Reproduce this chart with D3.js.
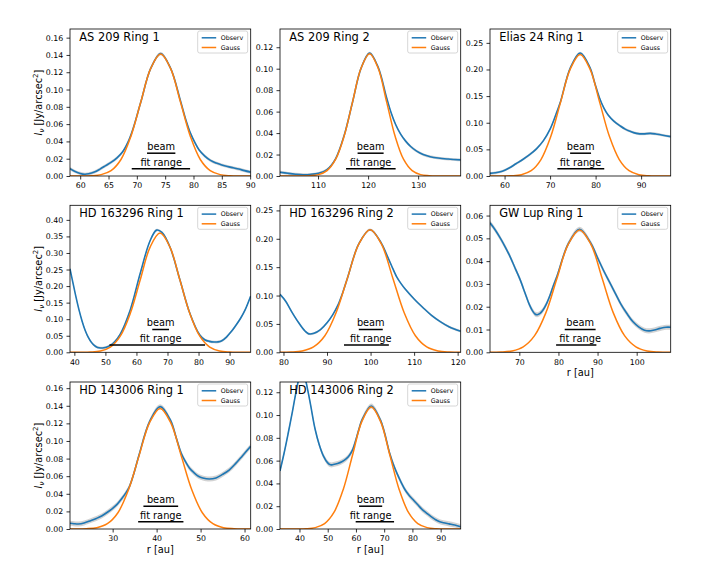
<!DOCTYPE html>
<html>
<head>
<meta charset="utf-8">
<script src="https://cdn.jsdelivr.net/npm/d3@7"></script>
<style>
  body { margin: 0; background: #fff; }
  svg { display: block; }
  text { font-family: "DejaVu Sans", sans-serif; }
</style>
</head>
<body>
<svg id="chart" width="706" height="588"></svg>
<script>
// panel metadata
const titles = ["AS 209 Ring 1", "AS 209 Ring 2", "Elias 24 Ring 1", "HD 163296 Ring 1",
  "HD 163296 Ring 2", "GW Lup Ring 1", "HD 143006 Ring 1", "HD 143006 Ring 2"];
const xDomains = [[58.2, 90.1], [102.4, 138.5], [56.8, 96.5], [38.6, 96.8],
  [79.2, 120.7], [62.5, 108.7], [20.3, 61.4], [33.1, 97.1]];
const yMax = [0.170, 0.137, 0.276, 0.444, 0.259, 0.0645, 0.167, 0.129];
const xTicks = [[60, 65, 70, 75, 80, 85, 90], [110, 120, 130], [60, 70, 80, 90],
  [40, 50, 60, 70, 80, 90], [80, 90, 100, 110, 120], [70, 80, 90, 100],
  [30, 40, 50, 60], [40, 50, 60, 70, 80, 90]];
const yTicks = [[0, 0.02, 0.04, 0.06, 0.08, 0.10, 0.12, 0.14, 0.16],
  [0, 0.02, 0.04, 0.06, 0.08, 0.10, 0.12],
  [0, 0.05, 0.10, 0.15, 0.20, 0.25],
  [0, 0.05, 0.10, 0.15, 0.20, 0.25, 0.30, 0.35, 0.40],
  [0, 0.05, 0.10, 0.15, 0.20, 0.25],
  [0, 0.01, 0.02, 0.03, 0.04, 0.05, 0.06],
  [0, 0.02, 0.04, 0.06, 0.08, 0.10, 0.12, 0.14, 0.16],
  [0, 0.02, 0.04, 0.06, 0.08, 0.10, 0.12]];
const beamRanges = [[71.8, 76.8], [117.9, 123.1], [74.4, 79.0], [65.1, 70.5],
  [97.3, 102.8], [81.6, 89.5], [37.0, 44.9], [61.1, 69.3]];
const fitRanges = [[69.1, 79.4], [115.6, 125.5], [71.6, 81.9], [51.3, 82.1],
  [93.9, 104.2], [79.4, 89.7], [35.8, 46.1], [59.9, 73.5]];
const bandErr = [0.0018, 0.0013, 0.0025, 0.004, 0.002, 0.0011, 0.0028, 0.0022];

// observed profiles [r, I]
const obsAS209R1 = [[58.2,0.0085],[59,0.0055],[60,0.003],[60.8,0.002],[61.5,0.0025],[62.5,0.0045],
  [63.5,0.008],[64.5,0.012],[65.5,0.016],[66.5,0.021],[67.5,0.028],[68.5,0.040],[69.3,0.054],
  [70.7,0.0855],[72.45,0.1244],[74.2,0.1415],[75.95,0.1248],[77.7,0.087],[78.7,0.064],[79.5,0.049],
  [80.3,0.038],[81,0.030],[82,0.023],[83,0.018],[84,0.015],[85,0.0128],[86,0.011],[87,0.0095],
  [88,0.008],[89,0.0062],[90.1,0.0045]];
const obsAS209R2 = [[102.4,0.0035],[104,0.0025],[105.5,0.0017],[107,0.0012],[108.4,0.0014],
  [110.1,0.0025],[111.8,0.006],[113.5,0.016],[115.2,0.0375],[116.9,0.069],[118.6,0.1005],
  [120.3,0.1145],[122.0,0.1015],[123.7,0.073],[124.6,0.059],[125.5,0.048],[126.5,0.039],
  [127.5,0.0325],[128.5,0.0275],[129.7,0.0232],[131,0.020],[132.4,0.018],[134,0.0167],
  [136,0.0158],[138.5,0.015]];
const obsElias24R1 = [[56.8,0.005],[58,0.006],[59.5,0.009],[61,0.015],[62.5,0.023],[64,0.031],
  [65.5,0.040],[67,0.051],[68.5,0.066],[70,0.088],[71.3,0.116],[72.3,0.140],[74.45,0.203],
  [76.6,0.231],[78.75,0.204],[79.8,0.175],[80.8,0.148],[81.8,0.128],[82.8,0.114],[84,0.103],
  [85.4,0.094],[86.5,0.088],[87.6,0.084],[89,0.080],[90.5,0.079],[92,0.080],[93.2,0.079],
  [94.5,0.077],[96.5,0.074]];
const obsHD163296R1 = [[38.6,0.252],[39.5,0.212],[40.5,0.168],[41.5,0.128],[42.5,0.094],[43.5,0.066],
  [44.5,0.045],[45.5,0.030],[46.5,0.020],[47.5,0.0145],[48.5,0.013],[49.5,0.0135],[50.5,0.016],
  [51.6,0.021],[53,0.032],[54.8,0.055],[58.0,0.128],[61.2,0.238],[64.4,0.337],[66.5,0.369],
  [68.2,0.362],[70.8,0.318],[74.0,0.219],[77.2,0.118],[80.4,0.052],[82,0.038],[83.5,0.033],
  [85,0.031],[86.3,0.0315],[87.5,0.035],[89,0.046],[90.5,0.062],[92,0.081],[93.5,0.102],
  [95,0.128],[96.8,0.170]];
const obsHD163296R2 = [[79.2,0.102],[80.5,0.090],[82,0.070],[83.5,0.052],[85,0.037],[85.8,0.0325],
  [87,0.0335],[88.5,0.040],[90,0.052],[91.3,0.066],[92.5,0.083],[93.6,0.105],[94.7,0.131],
  [97.3,0.191],[99.9,0.216],[102.5,0.192],[103.7,0.172],[104.8,0.153],[106,0.133],[107,0.121],
  [108,0.111],[110,0.094],[112,0.079],[114,0.065],[116,0.054],[118,0.045],[120.7,0.037]];
const obsGWLupR1 = [[62.5,0.0568],[63.8,0.0538],[65.1,0.0502],[66.4,0.0462],[67.6,0.0421],
  [68.9,0.037],[70.2,0.0319],[71.1,0.0277],[71.9,0.0239],[72.6,0.0208],[73.3,0.0184],[74.0,0.0168],
  [74.6,0.0165],[75.3,0.0171],[76.1,0.0187],[77.0,0.0215],[77.8,0.0248],[78.6,0.0288],
  [79.65,0.0335],[82.5,0.0476],[85.4,0.0540],[88.3,0.0478],[90,0.0415],[91.5,0.036],[93,0.031],
  [94.5,0.026],[96,0.021],[97.5,0.017],[99,0.0135],[100.5,0.0112],[102,0.0097],[103.2,0.0094],
  [104.5,0.0098],[106,0.0105],[107.5,0.011],[108.7,0.011]];
const obsHD143006R1 = [[20.3,0.0065],[21.2,0.006],[22.2,0.0057],[23.5,0.0068],[25,0.0095],
  [26.3,0.012],[27.5,0.0148],[28.8,0.019],[30,0.0235],[31,0.028],[32,0.034],[33,0.041],
  [33.8,0.048],[34.7,0.061],[36.0,0.084],[38.4,0.122],[40.8,0.139],[43.2,0.123],[44.5,0.103],
  [45.6,0.086],[46.5,0.077],[47.5,0.069],[48.5,0.064],[49.5,0.060],[50.5,0.058],[52,0.0568],
  [53.5,0.058],[55,0.062],[56.5,0.067],[58,0.0745],[59.5,0.083],[61.4,0.094]];
const obsHD143006R2 = [[33.1,0.051],[34.5,0.066],[36,0.084],[37.5,0.103],[38.6,0.118],[39.7,0.131],
  [40.8,0.139],[42,0.132],[43,0.121],[44,0.108],[45.5,0.088],[47,0.074],[48.5,0.064],[50,0.058],
  [51,0.0563],[52,0.0566],[53.5,0.0575],[55,0.059],[56.5,0.0615],[57.7,0.0648],[58.8,0.0695],
  [60,0.0785],[61.1,0.088],[62.1,0.0955],[65.4,0.108],[68.7,0.0955],[72.0,0.066],[73.2,0.057],
  [74.5,0.049],[76,0.041],[77.5,0.034],[79,0.029],[80.5,0.025],[82,0.021],[83.5,0.017],
  [85,0.014],[86.5,0.011],[88,0.0085],[89.5,0.0065],[91,0.0055],[93,0.0045],[95,0.0035],
  [97.1,0.002]];

// gaussian fits [r, I]
const gaussAS209R1 = [[58.2,0],[60.2,0],[61.95,0.0003],[63.7,0.0016],[65.45,0.0062],[67.2,0.0191],
  [68.95,0.0458],[70.7,0.0855],[72.45,0.1244],[74.2,0.141],[75.95,0.1244],[77.7,0.0855],
  [79.45,0.0458],[81.2,0.0191],[82.95,0.0062],[84.7,0.0016],[86.45,0.0003],[88.2,0],[90.1,0]];
const gaussAS209R2 = [[102.4,0],[106.7,0],[108.4,0.0003],[110.1,0.0013],[111.8,0.0050],
  [113.5,0.0154],[115.2,0.0370],[116.9,0.0691],[118.6,0.1006],[120.3,0.114],[122.0,0.1006],
  [123.7,0.0691],[125.4,0.0370],[127.1,0.0154],[128.8,0.0050],[130.5,0.0013],[132.2,0.0003],
  [133.9,0],[138.5,0]];
const gaussElias24R1 = [[56.8,0],[59.4,0.0001],[61.55,0.0005],[63.7,0.0025],[65.85,0.0100],
  [68.0,0.0309],[70.15,0.0740],[72.3,0.1383],[74.45,0.2012],[76.6,0.228],[78.75,0.2012],
  [80.9,0.1383],[83.05,0.0740],[85.2,0.0309],[87.35,0.0100],[89.5,0.0025],[91.65,0.0005],
  [93.8,0.0001],[96.5,0]];
const gaussHD163296R1 = [[38.6,0],[42.0,0.0001],[45.2,0.0008],[48.4,0.0040],[51.6,0.0158],
  [54.8,0.0487],[58.0,0.1169],[61.2,0.2183],[64.4,0.3177],[67.6,0.360],[70.8,0.3177],
  [74.0,0.2183],[77.2,0.1169],[80.4,0.0487],[83.6,0.0158],[86.8,0.0040],[90.0,0.0008],
  [93.2,0.0001],[96.8,0]];
const gaussHD163296R2 = [[79.2,0.0001],[81.7,0.0005],[84.3,0.0024],[86.9,0.0095],[89.5,0.0292],
  [92.1,0.0701],[94.7,0.1310],[97.3,0.1906],[99.9,0.216],[102.5,0.1906],[105.1,0.1310],
  [107.7,0.0701],[110.3,0.0292],[112.9,0.0095],[115.5,0.0024],[118.1,0.0005],[120.7,0.0001]];
const gaussGWLupR1 = [[62.5,0],[65.3,0.0001],[68.15,0.0006],[71.0,0.0024],[73.9,0.0073],
  [76.8,0.0174],[79.65,0.0326],[82.5,0.0474],[85.4,0.0537],[88.3,0.0474],[91.15,0.0326],
  [94.0,0.0174],[96.9,0.0073],[99.8,0.0024],[102.65,0.0006],[105.5,0.0001],[108.7,0]];
const gaussHD143006R1 = [[20.3,0],[21.6,0],[24.0,0.0003],[26.4,0.0015],[28.8,0.0060],[31.2,0.0185],
  [33.6,0.0445],[36.0,0.0831],[38.4,0.1209],[40.8,0.137],[43.2,0.1209],[45.6,0.0831],
  [48.0,0.0445],[50.4,0.0185],[52.8,0.0060],[55.2,0.0015],[57.6,0.0003],[60.0,0],[61.4,0]];
const gaussHD143006R2 = [[33.1,0],[39.0,0],[42.3,0.0002],[45.6,0.0012],[48.9,0.0047],[52.2,0.0145],
  [55.5,0.0347],[58.8,0.0649],[62.1,0.0944],[65.4,0.107],[68.7,0.0944],[72.0,0.0649],
  [75.3,0.0347],[78.6,0.0145],[81.9,0.0047],[85.2,0.0012],[88.5,0.0002],[91.8,0],[97.1,0]];

const observ = [obsAS209R1, obsAS209R2, obsElias24R1, obsHD163296R1,
  obsHD163296R2, obsGWLupR1, obsHD143006R1, obsHD143006R2];
const gauss = [gaussAS209R1, gaussAS209R2, gaussElias24R1, gaussHD163296R1,
  gaussHD163296R2, gaussGWLupR1, gaussHD143006R1, gaussHD143006R2];

// layout
const colLeft = [70, 280, 490];
const rowTop = [29, 205.3, 382];
const pw = 180.7, ph = 147;
const blue = '#1f77b4', orange = '#ff7f0e';
const curve = d3.curveCatmullRom.alpha(0.5);

const svg = d3.select('#chart');

titles.forEach((title, i) => {
  const g = svg.append('g')
    .attr('transform', `translate(${colLeft[i % 3]},${rowTop[Math.floor(i / 3)]})`);

  const x = d3.scaleLinear().domain(xDomains[i]).range([0, pw]);
  const y = d3.scaleLinear().domain([0, yMax[i]]).range([ph, 0]);

  g.append('clipPath').attr('id', 'clip' + i)
    .append('rect').attr('width', pw).attr('height', ph);
  const plot = g.append('g').attr('clip-path', `url(#clip${i})`);

  const err = bandErr[i];
  const band = d3.area()
    .x(d => x(d[0]))
    .y0(d => y(d[1] - err))
    .y1(d => y(d[1] + err))
    .curve(curve);
  const line = d3.line().x(d => x(d[0])).y(d => y(d[1])).curve(curve);

  plot.append('path').datum(observ[i])
    .attr('d', band).attr('fill', '#808080').attr('fill-opacity', 0.35);
  plot.append('path').datum(observ[i])
    .attr('d', line).attr('fill', 'none').attr('stroke', blue).attr('stroke-width', 1.6);
  plot.append('path').datum(gauss[i])
    .attr('d', line).attr('fill', 'none').attr('stroke', orange).attr('stroke-width', 1.5);

  // title
  g.append('text').attr('x', 9.3).attr('y', 12)
    .attr('font-size', 11.4).attr('fill', '#000').text(title);

  // beam and fit range markers
  const cx = (x(beamRanges[i][0]) + x(beamRanges[i][1])) / 2;
  const bars = [
    { r: beamRanges[i], yy: ph - 22.8, label: 'beam' },
    { r: fitRanges[i], yy: ph - 7.3, label: 'fit range' }
  ];
  bars.forEach(b => {
    g.append('line')
      .attr('x1', x(b.r[0])).attr('x2', x(b.r[1]))
      .attr('y1', b.yy).attr('y2', b.yy)
      .attr('stroke', '#000').attr('stroke-width', 1.5);
    g.append('text').attr('x', cx).attr('y', b.yy - 3.2)
      .attr('text-anchor', 'middle').attr('font-size', 9.8).attr('fill', '#000')
      .text(b.label);
  });

  // legend
  const lg = g.append('g').attr('transform', `translate(${pw - 53},2)`);
  lg.append('rect').attr('width', 50).attr('height', 22).attr('rx', 2)
    .attr('fill', '#fff').attr('fill-opacity', 0.8)
    .attr('stroke', '#cccccc').attr('stroke-width', 0.8);
  [['Observ', blue, 6.8], ['Gauss', orange, 16.5]].forEach(([name, col, ly]) => {
    lg.append('line').attr('x1', 4).attr('x2', 18.5).attr('y1', ly).attr('y2', ly)
      .attr('stroke', col).attr('stroke-width', 1.5);
    lg.append('text').attr('x', 23).attr('y', ly + 2.2)
      .attr('font-size', 6.3).attr('fill', '#000').text(name);
  });

  // spines
  g.append('rect').attr('width', pw).attr('height', ph)
    .attr('fill', 'none').attr('stroke', '#000').attr('stroke-width', 0.8);

  // axes
  const xAxis = g.append('g').attr('transform', `translate(0,${ph})`)
    .call(d3.axisBottom(x).tickValues(xTicks[i]).tickSize(3.5).tickPadding(3.3)
      .tickFormat(d3.format('d')));
  const yAxis = g.append('g')
    .call(d3.axisLeft(y).tickValues(yTicks[i]).tickSize(3.5).tickPadding(3.3)
      .tickFormat(d3.format('.2f')));
  [xAxis, yAxis].forEach(a => {
    a.select('.domain').remove();
    a.attr('font-family', '"DejaVu Sans", sans-serif').attr('font-size', 7.8);
    a.selectAll('line').attr('stroke', '#000').attr('stroke-width', 0.8);
    a.selectAll('text').attr('fill', '#000');
  });

  // y label on the first column
  if (i % 3 === 0) {
    const yl = g.append('text')
      .attr('transform', `translate(-28.5,${ph / 2}) rotate(-90)`)
      .attr('text-anchor', 'middle').attr('font-size', 9.8).attr('fill', '#000');
    yl.append('tspan').attr('font-style', 'italic').text('I');
    yl.append('tspan').attr('font-style', 'italic').attr('font-size', 7).attr('dy', 2.3).text('ν');
    yl.append('tspan').attr('dy', -2.3).text(' [Jy/arcsec');
    yl.append('tspan').attr('font-size', 7).attr('dy', -4).text('2');
    yl.append('tspan').attr('dy', 4).text(']');
  }

  // x label on the bottom panel of each column
  if (i >= 5) {
    g.append('text').attr('x', pw / 2).attr('y', ph + 24)
      .attr('text-anchor', 'middle').attr('font-size', 9.8).attr('fill', '#000')
      .text('r [au]');
  }
});
</script>
</body>
</html>
